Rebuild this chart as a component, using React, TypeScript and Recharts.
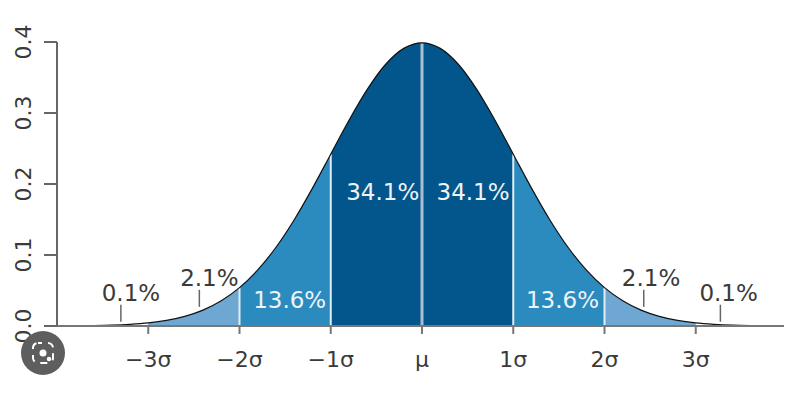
import React from "react";
import {
  ComposedChart,
  Area,
  Line,
  XAxis,
  YAxis,
  ReferenceLine,
  ReferenceDot,
} from "recharts";

// x in units of sigma, density
const X_VALUES = [
  -4, -3.8, -3.6, -3.4, -3.2, -3, -2.8, -2.6, -2.4, -2.2, -2, -1.8, -1.6, -1.4, -1.2, -1,
  -0.8, -0.6, -0.4, -0.2, 0, 0.2, 0.4, 0.6, 0.8, 1, 1.2, 1.4, 1.6, 1.8, 2, 2.2, 2.4, 2.6,
  2.8, 3, 3.2, 3.4, 3.6, 3.8, 4,
];
const DENSITY = [
  0.0001, 0.0003, 0.0006, 0.0012, 0.0024, 0.0044, 0.0079, 0.0136, 0.0224, 0.0355, 0.054,
  0.079, 0.1109, 0.1497, 0.1942, 0.242, 0.2897, 0.3332, 0.3683, 0.391, 0.3989, 0.391,
  0.3683, 0.3332, 0.2897, 0.242, 0.1942, 0.1497, 0.1109, 0.079, 0.054, 0.0355, 0.0224,
  0.0136, 0.0079, 0.0044, 0.0024, 0.0012, 0.0006, 0.0003, 0.0001,
];

const X_TICKS = [-3, -2, -1, 0, 1, 2, 3];
const X_TICK_LABELS = ["\u22123\u03c3", "\u22122\u03c3", "\u22121\u03c3", "\u03bc", "1\u03c3", "2\u03c3", "3\u03c3"];
const Y_TICKS = [0, 0.1, 0.2, 0.3, 0.4];

// band: [from, to] in |x|
const BANDS = [
  { key: "center", from: 0, to: 1, color: "#03568b" },
  { key: "mid", from: 1, to: 2, color: "#2b8bbf" },
  { key: "tail", from: 2, to: 3, color: "#6ea8d2" },
];

const PERCENTS = [
  { x: -3.19, y: 0.0465, text: "0.1%", inside: false },
  { x: -2.33, y: 0.0676, text: "2.1%", inside: false },
  { x: -1.45, y: 0.0366, text: "13.6%", inside: true },
  { x: -0.43, y: 0.189, text: "34.1%", inside: true },
  { x: 0.56, y: 0.189, text: "34.1%", inside: true },
  { x: 1.54, y: 0.0366, text: "13.6%", inside: true },
  { x: 2.51, y: 0.0676, text: "2.1%", inside: false },
  { x: 3.36, y: 0.0465, text: "0.1%", inside: false },
];

// little pointer marks under the outside labels
const POINTERS = [
  { x: -3.3, y1: 0.006, y2: 0.03 },
  { x: -2.44, y1: 0.027, y2: 0.051 },
  { x: 2.43, y1: 0.027, y2: 0.051 },
  { x: 3.27, y1: 0.006, y2: 0.03 },
];

const SEPARATORS = [-2, -1, 1, 2];

const FONT = "'DejaVu Sans', sans-serif";

const rows = X_VALUES.map((x, i) => {
  const row: any = { x, y: DENSITY[i] };
  BANDS.forEach((b) => {
    const a = Math.abs(x);
    row[b.key] = a >= b.from - 1e-9 && a <= b.to + 1e-9 ? DENSITY[i] : null;
  });
  return row;
});

const densityAt = (x: number) => DENSITY[X_VALUES.findIndex((v) => Math.abs(v - x) < 1e-9)];

const XTick = ({ x, y, payload }: any) => {
  const idx = X_TICKS.indexOf(payload.value);
  return (
    <text x={x} y={y + 31} textAnchor="middle" fill="#3a3a3a" fontSize={22} fontFamily={FONT}>
      {X_TICK_LABELS[idx]}
    </text>
  );
};

const YTick = ({ x, y, payload }: any) => (
  <text
    transform={`translate(${x - 19},${y}) rotate(-90)`}
    textAnchor="middle"
    dominantBaseline="central"
    fill="#3a3a3a"
    fontSize={22}
    fontFamily={FONT}
  >
    {payload.value.toFixed(1)}
  </text>
);

export default function App() {
  return (
    <div style={{ position: "relative", width: 792, height: 396, margin: -8, background: "#fff" }}>
      <ComposedChart
        width={792}
        height={396}
        data={rows}
        margin={{ top: 42, right: 5, bottom: 0, left: 0 }}
      >
        <XAxis
          dataKey="x"
          type="number"
          domain={[-4, 4]}
          ticks={X_TICKS}
          tick={<XTick />}
          tickSize={8}
          height={70}
          stroke="#777"
          strokeWidth={2}
          allowDataOverflow
        />
        <YAxis
          type="number"
          domain={[0, 0.4]}
          ticks={Y_TICKS}
          tick={<YTick />}
          tickSize={13}
          width={57}
          stroke="#666"
          strokeWidth={2}
        />
        {BANDS.map((b) => (
          <Area
            key={b.key}
            dataKey={b.key}
            type="monotone"
            stroke="none"
            fill={b.color}
            fillOpacity={1}
            isAnimationActive={false}
            connectNulls={false}
          />
        ))}
        {SEPARATORS.map((s) => (
          <ReferenceLine
            key={s}
            segment={[
              { x: s, y: 0 },
              { x: s, y: densityAt(s) },
            ]}
            stroke="#e4ecf3"
            strokeWidth={2}
          />
        ))}
        <ReferenceLine
          segment={[
            { x: 0, y: 0 },
            { x: 0, y: densityAt(0) },
          ]}
          stroke="#a9bed2"
          strokeWidth={3}
        />
        <Line
          dataKey="y"
          type="monotone"
          stroke="#111"
          strokeWidth={1.2}
          dot={false}
          isAnimationActive={false}
        />
        {POINTERS.map((p, i) => (
          <ReferenceLine
            key={`p${i}`}
            segment={[
              { x: p.x, y: p.y1 },
              { x: p.x, y: p.y2 },
            ]}
            stroke="#666"
            strokeWidth={1.5}
          />
        ))}
        {PERCENTS.map((p, i) => (
          <ReferenceDot
            key={`l${i}`}
            x={p.x}
            y={p.y}
            r={0}
            stroke="none"
            label={{
              value: p.text,
              position: "center",
              fill: p.inside ? "#eef3f8" : "#3a3a3a",
              fontSize: 23,
              fontFamily: FONT,
            }}
          />
        ))}
      </ComposedChart>
      <div
        style={{
          position: "absolute",
          inset: 0,
          borderTop: "1px solid #222",
          borderLeft: "1px solid #222",
          pointerEvents: "none",
        }}
      />
      <svg
        width={50}
        height={50}
        style={{ position: "absolute", left: 18, top: 328, pointerEvents: "none" }}
      >
        <circle cx={25} cy={25} r={22} fill="#5e5e5e" />
        <rect
          x={15}
          y={15}
          width={20}
          height={20}
          rx={5}
          fill="none"
          stroke="#fff"
          strokeWidth={2}
          strokeDasharray="7 6"
          strokeDashoffset={3}
        />
        <circle cx={25} cy={25} r={3.5} fill="#fff" />
        <circle cx={31} cy={31} r={2.2} fill="#fff" />
      </svg>
    </div>
  );
}
